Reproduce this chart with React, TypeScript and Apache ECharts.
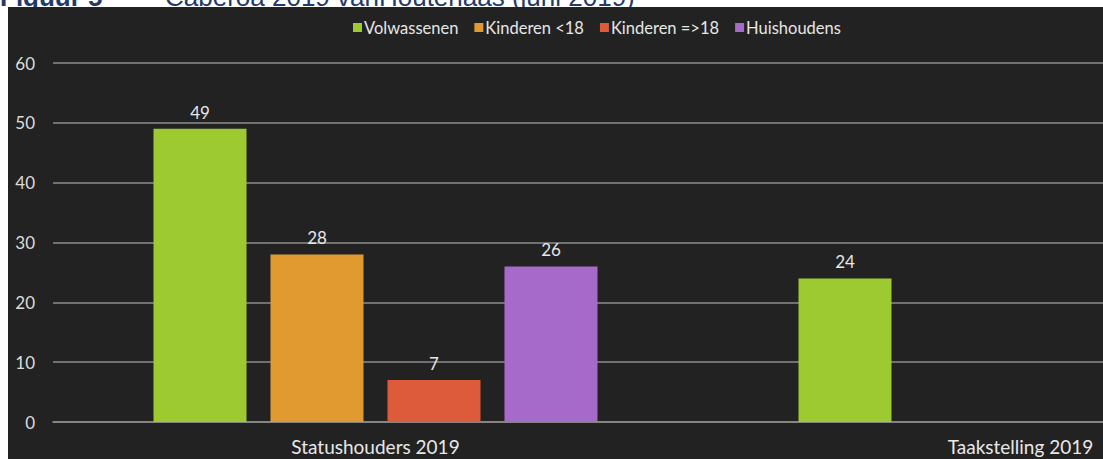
import React, { useEffect, useRef } from "react";
import * as echarts from "echarts";

const categories = ["Statushouders 2019", "Taakstelling 2019"];
const seriesNames = ["Volwassenen", "Kinderen <18", "Kinderen =>18", "Huishoudens"];
const volwassenen = [49, 24];
const kinderenOnder18 = [28, null];
const kinderenVanaf18 = [7, null];
const huishoudens = [26, null];
const seriesColors = ["#9dca31", "#e09a30", "#dd5b3a", "#a66aca"];
const titleLeft = "Figuur 5";
const titleRight = "Caberoa 2019 vanHoutenaas (juni 2019)";

export default function App() {
  const ref = useRef<HTMLDivElement>(null);
  useEffect(() => {
    if (!ref.current) return;
    const chart = echarts.init(ref.current, null, { renderer: "svg" });
    const font = "Lato, 'DejaVu Sans', sans-serif";
    const values = [volwassenen, kinderenOnder18, kinderenVanaf18, huishoudens];
    chart.setOption({
      animation: false,
      backgroundColor: "#ffffff",
      textStyle: { fontFamily: font },
      graphic: [
        { type: "rect", z: -10, shape: { x: 8, y: 7, width: 1400, height: 452 }, style: { fill: "#222222" } },
        { type: "text", z: -20, x: 0, y: -16, style: { text: titleLeft, fill: "#1f3a6b", font: "bold 26px 'Liberation Sans', Arial, sans-serif" } },
        { type: "text", z: -20, x: 165, y: -16, style: { text: titleRight, fill: "#1f3a6b", font: "26px 'Liberation Sans', Arial, sans-serif" } },
      ],
      legend: {
        left: 348,
        top: 14,
        itemWidth: 9,
        itemHeight: 9,
        itemGap: 16,
        icon: "rect",
        textStyle: { color: "#e6e6e6", fontSize: 16.5, fontFamily: font, padding: [0, 0, 0, -3] },
        data: seriesNames,
      },
      grid: { left: 53, right: 7, top: 63, bottom: 37, containLabel: false },
      xAxis: {
        type: "category",
        data: categories,
        axisLine: { show: true, lineStyle: { color: "#8c8c8c", width: 1.5 } },
        axisTick: { show: false },
        axisLabel: { color: "#e8e8e8", fontSize: 19, margin: 15, fontFamily: font },
      },
      yAxis: {
        type: "value",
        min: 0,
        max: 60,
        interval: 10,
        axisLine: { show: false },
        axisTick: { show: false },
        axisLabel: { color: "#dcdcdc", fontSize: 17, margin: 18, fontFamily: font },
        splitLine: { lineStyle: { color: "#8c8c8c", width: 1.5 } },
      },
      series: seriesNames.map((name, i) => ({
        name,
        type: "bar",
        data: values[i],
        barWidth: 93,
        barGap: "25.8%",
        itemStyle: { color: seriesColors[i] },
        label: {
          show: true,
          position: "top",
          distance: 8,
          color: "#e6e6e6",
          fontSize: 17,
          fontFamily: font,
        },
      })),
    });
    return () => chart.dispose();
  }, []);
  return (
    <div
      style={{ position: "absolute", left: 0, top: 0, width: 1103, height: 459, overflow: "hidden" }}
    >
      <div ref={ref} style={{ position: "absolute", left: 0, top: 0, width: 1350, height: 459 }} />
    </div>
  );
}
